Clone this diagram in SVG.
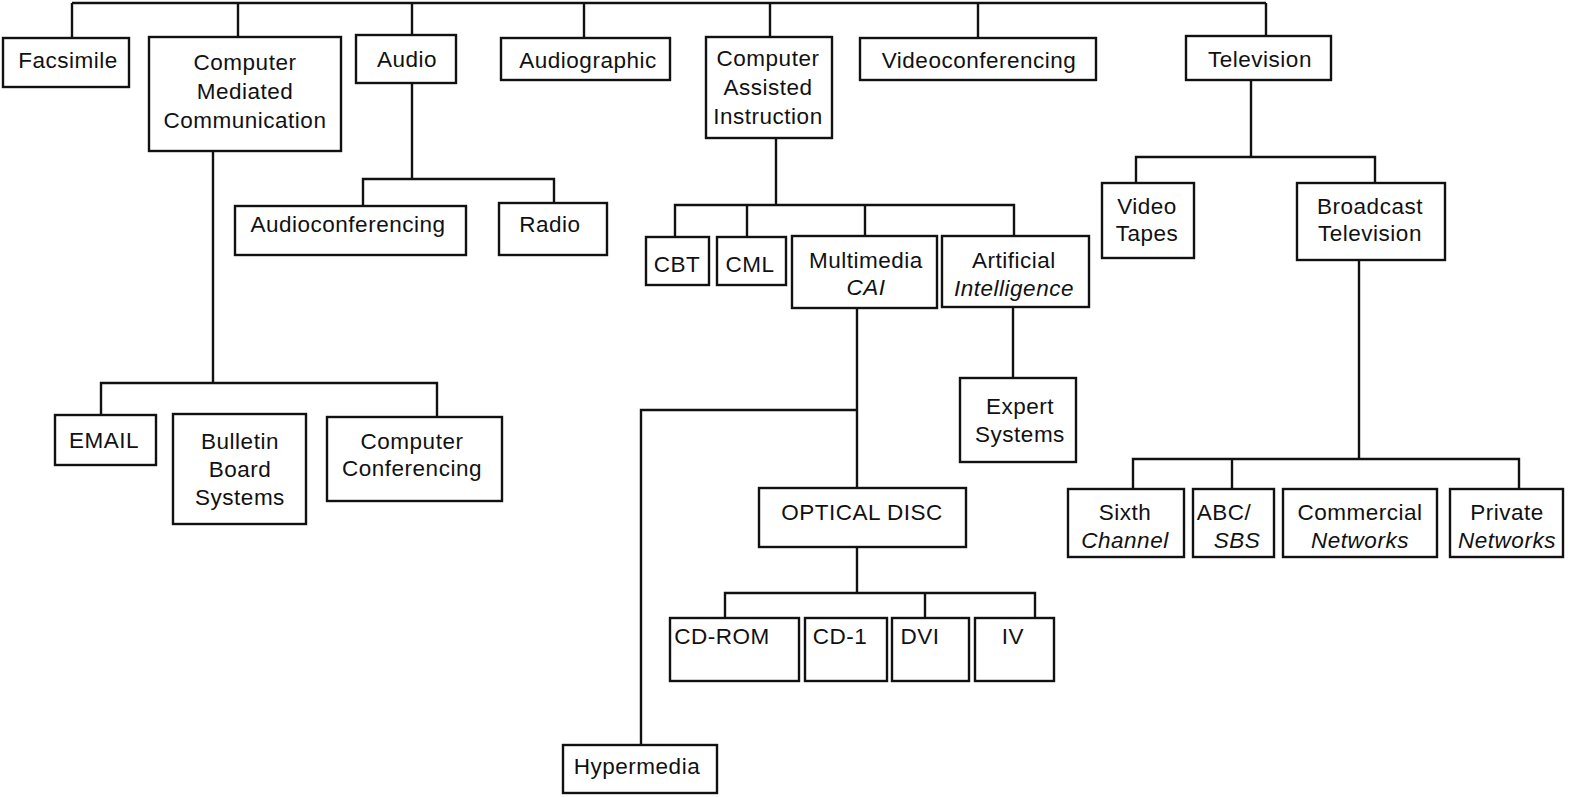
<svg xmlns="http://www.w3.org/2000/svg" width="1572" height="797" viewBox="0 0 1572 797">
<style>
rect{fill:#fff;stroke:#111;stroke-width:2.4}
#connectors path{fill:none;stroke:#111;stroke-width:2.4}
text{font-family:"Liberation Sans",Arial,sans-serif;font-size:22.5px;letter-spacing:0.5px;fill:#111;text-anchor:middle}
.i{font-style:italic}
</style>
<rect x="0" y="0" width="1572" height="797" style="stroke:none"/>
<g id="connectors">
<path d="M72 3H1266M72 3V38M238 3V37M412 3V35M584 3V38M770 3V37M978 3V38M1266 3V36"/>
<path d="M213 151V383M101 415V383H437V417"/>
<path d="M412 83V179M363 206V179H554V203"/>
<path d="M776 138V205M675 237V205H1014V236M747 205V237M865 205V236"/>
<path d="M857 308V488M857 410H641V745"/>
<path d="M1013 307V378"/>
<path d="M857 547V593M725 618V593H1035V618M925 593V618"/>
<path d="M1251 80V157M1136 183V157H1375V183"/>
<path d="M1359 260V459M1133 489V459H1519V489M1232 459V489"/>
</g>
<g id="facsimile"><rect x="3" y="38" width="126" height="49"/><text x="68" y="68">Facsimile</text></g>
<g id="cmc"><rect x="149" y="37" width="192" height="114"/><text x="245" y="70">Computer</text><text x="245" y="99">Mediated</text><text x="245" y="128">Communication</text></g>
<g id="audio"><rect x="356" y="35" width="100" height="48"/><text x="407" y="67">Audio</text></g>
<g id="audiographic"><rect x="501" y="38" width="169" height="42"/><text x="588" y="68">Audiographic</text></g>
<g id="cai"><rect x="706" y="37" width="126" height="101"/><text x="768" y="66">Computer</text><text x="768" y="95">Assisted</text><text x="768" y="124">Instruction</text></g>
<g id="videoconferencing"><rect x="860" y="38" width="236" height="42"/><text x="979" y="68">Videoconferencing</text></g>
<g id="television"><rect x="1186" y="36" width="145" height="44"/><text x="1260" y="67">Television</text></g>
<g id="audioconferencing"><rect x="235" y="206" width="231" height="49"/><text x="348" y="232">Audioconferencing</text></g>
<g id="radio"><rect x="499" y="203" width="108" height="52"/><text x="550" y="232">Radio</text></g>
<g id="cbt"><rect x="646" y="237" width="63" height="48"/><text x="677" y="272">CBT</text></g>
<g id="cml"><rect x="717" y="237" width="69" height="48"/><text x="750" y="272">CML</text></g>
<g id="multimedia"><rect x="792" y="236" width="145" height="72"/><text x="866" y="268">Multimedia</text><text x="866" y="295" class="i">CAI</text></g>
<g id="ai"><rect x="942" y="236" width="147" height="71"/><text x="1014" y="268">Artificial</text><text x="1014" y="296" class="i">Intelligence</text></g>
<g id="expert"><rect x="960" y="378" width="116" height="84"/><text x="1020" y="414">Expert</text><text x="1020" y="442">Systems</text></g>
<g id="videotapes"><rect x="1102" y="183" width="92" height="75"/><text x="1147" y="214">Video</text><text x="1147" y="241">Tapes</text></g>
<g id="broadcast"><rect x="1297" y="183" width="148" height="77"/><text x="1370" y="214">Broadcast</text><text x="1370" y="241">Television</text></g>
<g id="email"><rect x="55" y="415" width="101" height="50"/><text x="104" y="448">EMAIL</text></g>
<g id="bulletin"><rect x="173" y="414" width="133" height="110"/><text x="240" y="449">Bulletin</text><text x="240" y="477">Board</text><text x="240" y="505">Systems</text></g>
<g id="compconf"><rect x="327" y="417" width="175" height="84"/><text x="412" y="449">Computer</text><text x="412" y="476">Conferencing</text></g>
<g id="optical"><rect x="759" y="488" width="207" height="59"/><text x="862" y="520">OPTICAL DISC</text></g>
<g id="sixth"><rect x="1068" y="489" width="116" height="68"/><text x="1125" y="520">Sixth</text><text x="1125" y="548" class="i">Channel</text></g>
<g id="abc"><rect x="1193" y="489" width="81" height="68"/><text x="1224" y="520">ABC/</text><text x="1237" y="548" class="i">SBS</text></g>
<g id="commercial"><rect x="1283" y="489" width="154" height="68"/><text x="1360" y="520">Commercial</text><text x="1360" y="548" class="i">Networks</text></g>
<g id="private"><rect x="1450" y="489" width="113" height="68"/><text x="1507" y="520">Private</text><text x="1507" y="548" class="i">Networks</text></g>
<g id="cdrom"><rect x="670" y="618" width="129" height="63"/><text x="722" y="644">CD-ROM</text></g>
<g id="cd1"><rect x="805" y="618" width="82" height="63"/><text x="840" y="644">CD-1</text></g>
<g id="dvi"><rect x="892" y="618" width="77" height="63"/><text x="920" y="644">DVI</text></g>
<g id="iv"><rect x="975" y="618" width="79" height="63"/><text x="1013" y="644">IV</text></g>
<g id="hypermedia"><rect x="563" y="745" width="154" height="48"/><text x="637" y="774">Hypermedia</text></g>
</svg>
